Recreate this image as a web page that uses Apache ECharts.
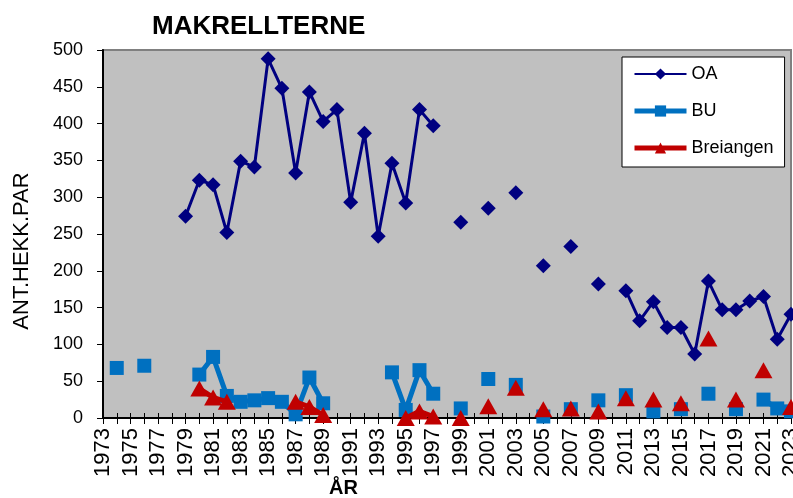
<!DOCTYPE html>
<html>
<head>
<meta charset="utf-8">
<script src="https://cdn.jsdelivr.net/npm/echarts@6/dist/echarts.min.js"></script>
<style>html,body{margin:0;padding:0;background:#fff}#c{width:793px;height:498px}</style>
</head>
<body>
<div id="c"></div>
<script>
const years = [];
for (let y = 1973; y <= 2023; y++) years.push(String(y));

const oaYears = [1979,1980,1981,1982,1983,1984,1985,1986,1987,1988,1989,1990,1991,1992,1993,1994,1995,1996,1997,1999,2001,2003,2005,2007,2009,2011,2012,2013,2014,2015,2016,2017,2018,2019,2020,2021,2022,2023];
const oaValues = [274,323,317,252,349,341,488,448,333,443,403,419,293,387,247,346,292,419,397,266,285,306,207,233,182,173,132,158,123,123,87,186,147,147,159,165,107,141];

const buYears = [1974,1976,1980,1981,1982,1983,1984,1985,1986,1987,1988,1989,1994,1995,1996,1997,1999,2001,2003,2005,2007,2009,2011,2013,2015,2017,2019,2021,2022,2023];
const buValues = [68,71,59,83,30,22,24,27,22,5,55,20,62,11,65,33,13,53,45,2,12,24,31,9,12,33,12,25,13,9];

const brYears = [1980,1981,1982,1987,1988,1989,1995,1996,1997,1999,2001,2003,2005,2007,2009,2011,2013,2015,2017,2019,2021,2023];
const brValues = [40,28,22,22,15,4,0,9,2,0,16,41,12,13,9,27,25,20,108,25,65,15];

const yTicks = { min: 0, max: 500, interval: 50 };

function toSeries(ys, vs) {
  return years.map(y => {
    const i = ys.indexOf(Number(y));
    return i >= 0 ? vs[i] : null;
  });
}

const font = 'Liberation Sans, Arial, sans-serif';
const chart = echarts.init(document.getElementById('c'), null, { renderer: 'canvas' });
chart.setOption({
  animation: false,
  textStyle: { fontFamily: font, color: '#000' },
  title: {
    text: 'MAKRELLTERNE', left: 147, top: 9,
    textStyle: { fontFamily: font, fontSize: 26, fontWeight: 'bold', color: '#000' }
  },
  legend: {
    orient: 'vertical', left: 622, top: 57,
    backgroundColor: '#fff', borderColor: '#000', borderWidth: 1,
    padding: [8, 11, 10, 10],
    itemWidth: 52, itemHeight: 14, itemGap: 19,
    textStyle: { fontFamily: font, fontSize: 18, color: '#000', lineHeight: 18 },
    data: [
      { name: 'OA', lineStyle: { width: 2 } },
      { name: 'BU', lineStyle: { width: 5 } },
      { name: 'Breiangen', lineStyle: { width: 5 } }
    ]
  },
  graphic: [{
    type: 'text', left: 329, top: 478,
    style: { text: 'ÅR', font: 'bold 20px ' + font, fill: '#000' }
  }, {
    type: 'text', x: 22, y: 251, rotation: Math.PI / 2,
    style: { text: 'ANT.HEKK.PAR', font: '22px ' + font, fill: '#000', align: 'center', verticalAlign: 'middle' }
  }],
  grid: {
    left: 103, top: 50, right: 2, bottom: 80,
    outerBoundsMode: 'none', containLabel: false,
    show: true, backgroundColor: '#C0C0C0', borderColor: '#808080', borderWidth: 2
  },
  xAxis: [{
    type: 'category', data: years, boundaryGap: false,
    axisLine: { lineStyle: { color: '#000', width: 2 } },
    axisTick: { interval: 0, length: 6, lineStyle: { color: '#000' } },
    axisLabel: { interval: 1, rotate: 90, margin: 10, fontSize: 22, color: '#000', fontFamily: font },
    splitLine: { show: false }
  }, {
    type: 'category', data: years, boundaryGap: false, position: 'bottom',
    axisLine: { show: false },
    axisTick: { inside: true, interval: 0, length: 5, lineStyle: { color: '#000' } },
    axisLabel: { show: false },
    splitLine: { show: false }
  }],
  yAxis: {
    type: 'value', min: yTicks.min, max: yTicks.max, interval: yTicks.interval,
    axisLine: { show: true, lineStyle: { color: '#000', width: 2 } },
    axisTick: { show: true, length: 6, lineStyle: { color: '#000' } },
    axisLabel: { margin: 20, fontSize: 18, color: '#000', fontFamily: font },
    splitLine: { show: false }
  },
  series: [{
    name: 'OA', type: 'line', data: toSeries(oaYears, oaValues),
    connectNulls: false, showAllSymbol: true, symbol: 'diamond', symbolSize: 15,
    itemStyle: { color: '#000080' }, lineStyle: { color: '#000080', width: 3 }, z: 4
  }, {
    name: 'BU', type: 'line', data: toSeries(buYears, buValues),
    connectNulls: false, showAllSymbol: true, symbol: 'rect', symbolSize: 14,
    itemStyle: { color: '#0070C0' }, lineStyle: { color: '#0070C0', width: 5 }, z: 2
  }, {
    name: 'Breiangen', type: 'line', data: toSeries(brYears, brValues),
    connectNulls: false, showAllSymbol: true, symbol: 'triangle', symbolSize: [18, 16],
    itemStyle: { color: '#C00000' }, lineStyle: { color: '#C00000', width: 5 }, z: 3
  }]
});
</script>
</body>
</html>
